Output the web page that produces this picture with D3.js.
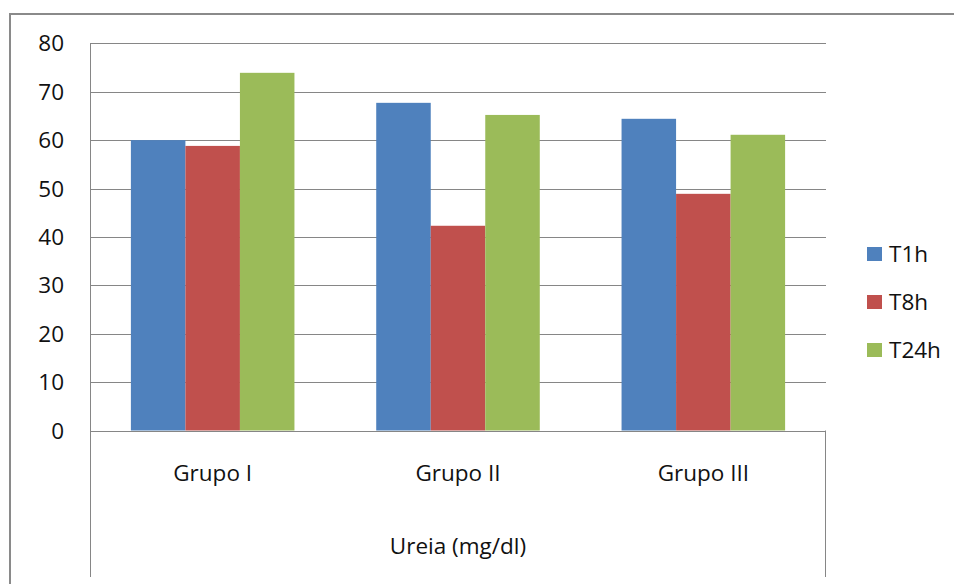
<!DOCTYPE html>
<html>
<head>
<meta charset="utf-8">
<script src="https://cdn.jsdelivr.net/npm/d3@7"></script>
<style>
  html, body { margin: 0; padding: 0; background: #fff; }
  svg { display: block; }
  text { font-family: "Open Sans", "Noto Sans", sans-serif; fill: #111; }
</style>
</head>
<body>
<svg id="chart" width="954" height="584"></svg>
<script>
// Ureia (mg/dl) per group at three sampling times
const groups = ["Grupo I", "Grupo II", "Grupo III"];
const seriesNames = ["T1h", "T8h", "T24h"];
const T1h = [60.0, 67.7, 64.4];
const T8h = [58.8, 42.3, 48.9];
const T24h = [73.9, 65.2, 61.1];
const yTicks = [0, 10, 20, 30, 40, 50, 60, 70, 80];
const axisTitle = "Ureia (mg/dl)";
const colors = ["#4F81BD", "#C0504D", "#9BBB59"];

const seriesValues = [T1h, T8h, T24h];
const rows = groups.map((g, i) => ({
  group: g,
  values: seriesNames.map((s, j) => ({ key: s, value: seriesValues[j][i] }))
}));

const svg = d3.select("#chart");
const plot = { left: 90, right: 826, top: 43.3, bottom: 430.5, axisBottom: 577 };
const gridColor = "#868686";
const fontSize = 22.5;

// outer chart frame (extends past the window on the right and bottom)
svg.append("path")
  .attr("d", `M10,${600} V14 H${970}`)
  .attr("fill", "none")
  .attr("stroke", "#8a8a8a")
  .attr("stroke-width", 2);

const x0 = d3.scaleBand().domain(groups).range([plot.left, plot.right]).paddingInner(0).paddingOuter(0);
// Excel-style gap width of 150%: bars fill 3/4.5 of each category
const x1 = d3.scaleBand().domain(seriesNames).range([0, x0.bandwidth()])
  .paddingInner(0).paddingOuter(0.75);
const y = d3.scaleLinear().domain([0, 80]).range([plot.bottom, plot.top]);

// horizontal gridlines
svg.append("g")
  .selectAll("line")
  .data(yTicks)
  .join("line")
  .attr("x1", plot.left).attr("x2", plot.right)
  .attr("y1", d => Math.round(y(d)) + 0.5).attr("y2", d => Math.round(y(d)) + 0.5)
  .attr("stroke", gridColor).attr("stroke-width", 1);

// value axis line, running down through the category label area
svg.append("line")
  .attr("x1", plot.left + 0.5).attr("x2", plot.left + 0.5)
  .attr("y1", plot.top).attr("y2", plot.axisBottom)
  .attr("stroke", gridColor);

// closing edge of the category label area
svg.append("line")
  .attr("x1", x0.range()[1] - 0.5).attr("x2", x0.range()[1] - 0.5)
  .attr("y1", plot.bottom).attr("y2", plot.axisBottom)
  .attr("stroke", gridColor);

// bars
const gGroups = svg.append("g")
  .selectAll("g")
  .data(rows)
  .join("g")
  .attr("transform", d => `translate(${x0(d.group)},0)`);
gGroups.selectAll("rect")
  .data(d => d.values)
  .join("rect")
  .attr("x", d => x1(d.key))
  .attr("width", x1.bandwidth())
  .attr("y", d => y(d.value))
  .attr("height", d => y(0) - y(d.value))
  .attr("fill", (d, i) => colors[i]);

// y tick labels
svg.append("g")
  .selectAll("text")
  .data(yTicks)
  .join("text")
  .attr("x", 64)
  .attr("y", d => y(d))
  .attr("dy", "0.36em")
  .attr("text-anchor", "end")
  .attr("font-size", fontSize)
  .text(d => d);

// category labels
svg.append("g")
  .selectAll("text")
  .data(groups)
  .join("text")
  .attr("x", d => x0(d) + x0.bandwidth() / 2)
  .attr("y", 481)
  .attr("text-anchor", "middle")
  .attr("font-size", fontSize)
  .text(d => d);

// axis title
svg.append("text")
  .attr("x", (plot.left + plot.right) / 2)
  .attr("y", 554)
  .attr("text-anchor", "middle")
  .attr("font-size", fontSize)
  .text(axisTitle);

// legend
const legend = svg.append("g")
  .selectAll("g")
  .data(seriesNames)
  .join("g")
  .attr("transform", (d, i) => `translate(867,${247 + i * 48})`);
legend.append("rect")
  .attr("width", 15).attr("height", 14)
  .attr("fill", (d, i) => colors[i]);
legend.append("text")
  .attr("x", 22)
  .attr("y", 7)
  .attr("dy", "0.36em")
  .attr("font-size", fontSize)
  .text(d => d);
</script>
</body>
</html>
